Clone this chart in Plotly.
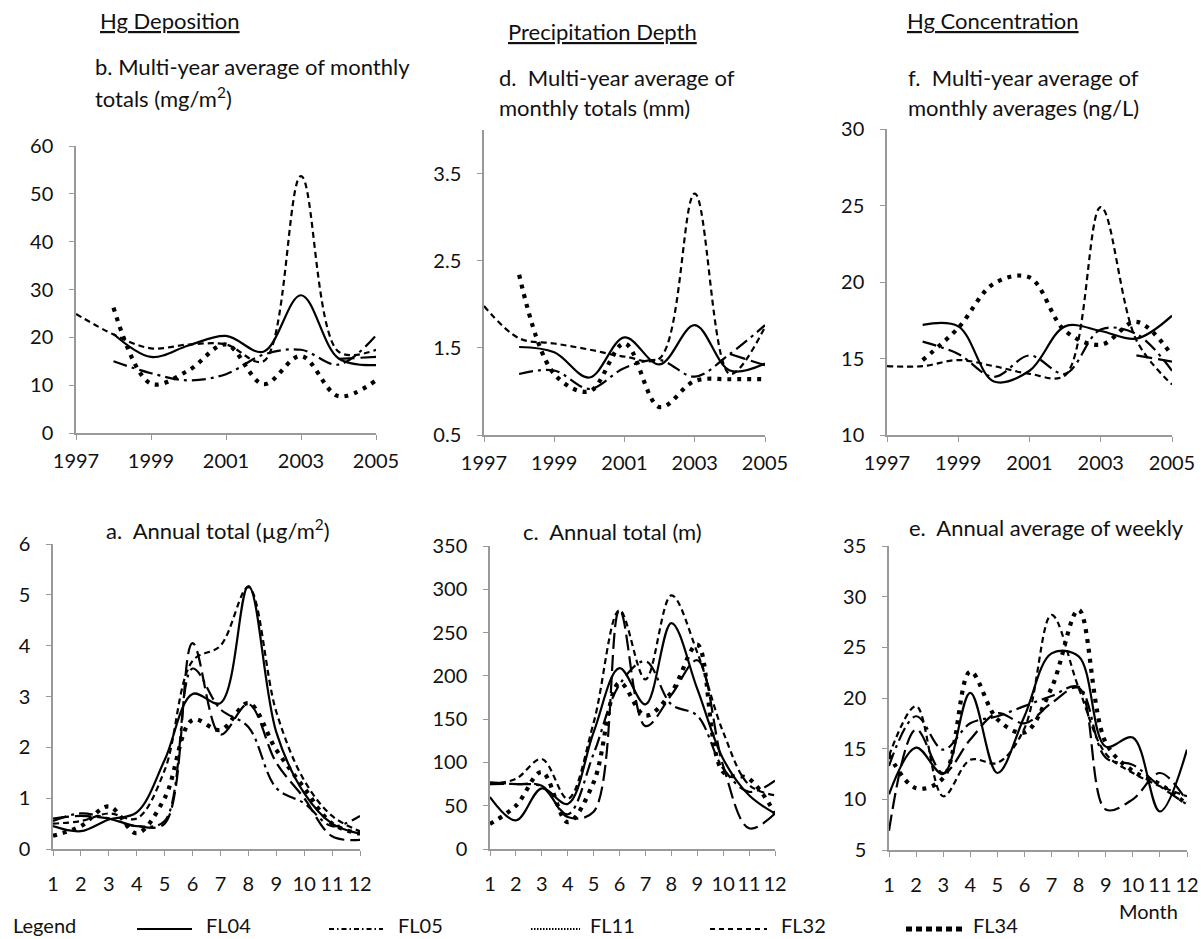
import plotly.graph_objects as go

# ---------------- data ----------------
years = [1997, 1998, 1999, 2000, 2001, 2002, 2003, 2004, 2005]
months = [1, 2, 3, 4, 5, 6, 7, 8, 9, 10, 11, 12]
stations = ["FL04", "FL05", "FL11", "FL32", "FL34"]

# b. Hg deposition, multi-year average of monthly totals (mg/m2)
dep_year_FL04 = [None, 20.7, 15.9, 18.3, 20.3, 17.0, 28.8, 15.6, 14.2]
dep_year_FL05 = [None, 15.0, 12.5, 11.0, 12.3, 16.4, 17.4, 14.3, 20.4]
dep_year_FL11 = [None, None, None, None, None, None, None, 15.5, 15.9]
dep_year_FL32 = [24.9, 20.6, 17.7, 18.5, 18.5, 15.0, 53.7, 17.0, 17.4]
dep_year_FL34 = [None, 26.2, 10.3, 13.1, 18.5, 10.2, 16.1, 7.7, 11.0]

# d. Precipitation depth, multi-year average of monthly totals
pr_year_FL04 = [None, 1.51, 1.45, 1.16, 1.62, 1.31, 1.76, 1.24, 1.32]
pr_year_FL05 = [None, 1.20, 1.24, 1.03, 1.27, 1.36, 1.17, 1.43, 1.76]
pr_year_FL11 = [None, None, None, None, None, None, None, 1.43, 1.30]
pr_year_FL32 = [1.98, 1.61, 1.55, 1.48, 1.40, 1.38, 3.27, 1.20, 1.74]
pr_year_FL34 = [None, 2.34, 1.20, 1.00, 1.55, 0.82, 1.12, 1.14, 1.14]

# f. Hg concentration, multi-year average of monthly averages (ng/L)
cn_year_FL04 = [None, 17.2, 17.1, 13.5, 14.2, 17.1, 16.8, 16.3, 17.8]
cn_year_FL05 = [None, 16.1, 15.3, 13.8, 15.2, 14.0, 16.9, 16.6, 14.2]
cn_year_FL11 = [None, None, None, None, None, None, None, 15.2, 14.8]
cn_year_FL32 = [14.5, 14.5, 14.9, 14.5, 14.0, 13.9, 24.9, 16.2, 13.3]
cn_year_FL34 = [None, 14.9, 17.0, 19.9, 20.3, 16.8, 15.9, 17.4, 15.2]

# a. Hg deposition, annual total (ug/m2) by month
dep_mon_FL04 = [0.45, 0.35, 0.58, 0.72, 1.75, 3.05, 2.87, 5.17, 2.30, 1.10, 0.50, 0.30]
dep_mon_FL05 = [0.55, 0.70, 0.60, 0.45, 0.55, 3.55, 2.75, 2.40, 1.20, 0.90, 0.45, 0.65]
dep_mon_FL11 = [0.60, 0.65, 0.60, 0.45, 0.50, 4.05, 2.25, 2.85, 1.70, 1.00, 0.25, 0.18]
dep_mon_FL32 = [0.50, 0.55, 0.70, 0.60, 1.55, 3.70, 4.00, 5.15, 2.70, 1.35, 0.65, 0.35]
dep_mon_FL34 = [0.26, 0.45, 0.84, 0.31, 1.00, 2.54, 2.34, 2.87, 1.95, 1.20, 0.50, 0.30]

# c. Precipitation depth, annual total by month
pr_mon_FL04 = [60, 33, 70, 52, 135, 209, 167, 261, 185, 104, 62, 41]
pr_mon_FL05 = [75, 75, 72, 40, 110, 190, 217, 167, 154, 93, 66, 79]
pr_mon_FL11 = [77, 75, 73, 37, 43, 276, 142, 178, 218, 96, 24, 41]
pr_mon_FL32 = [75, 81, 104, 58, 146, 276, 196, 293, 227, 135, 74, 62]
pr_mon_FL34 = [29, 50, 89, 31, 77, 192, 154, 181, 236, 89, 81, 41]

# e. Hg concentration, annual average of weekly by month
cn_mon_FL04 = [10.5, 15.1, 12.5, 20.5, 12.6, 18.2, 24.4, 24.1, 15.2, 16.1, 8.8, 14.9]
cn_mon_FL05 = [13.3, 18.2, 14.9, 17.5, 18.2, 19.2, 20.2, 21.1, 14.1, 13.4, 11.3, 9.5]
cn_mon_FL11 = [6.9, 16.9, 12.6, 15.9, 18.5, 17.5, 19.5, 21.0, 9.0, 10.0, 12.6, 9.8]
cn_mon_FL32 = [14.3, 19.2, 10.3, 13.9, 13.6, 17.0, 28.2, 21.0, 14.5, 12.6, 11.3, 10.3]
cn_mon_FL34 = [14.4, 11.1, 12.1, 22.6, 17.9, 16.6, 21.0, 28.7, 15.6, 12.8, 11.5, 9.5]

year_ticks = [1997, 1999, 2001, 2003, 2005]

# ---------------- styling ----------------
W, H = 1201, 939
FONT = "Lato"
FS = 20
FS_T = 22
TXT = "#111111"
AX = "#999999"


def px(x):
    return x / W


def py(y):
    return 1 - y / H


plot_style = {
    "FL04": dict(width=2.2, dash="solid"),
    "FL05": dict(width=2.2, dash="14px,5px,3px,5px"),
    "FL11": dict(width=2.2, dash="16px,6px"),
    "FL32": dict(width=2.2, dash="6px,4px"),
    "FL34": dict(width=4.2, dash="4px,6px"),
}

panels = [
    (years, [dep_year_FL04, dep_year_FL05, dep_year_FL11, dep_year_FL32, dep_year_FL34],
     (76, 376), (146, 433), [0, 60], 0, 10),
    (years, [pr_year_FL04, pr_year_FL05, pr_year_FL11, pr_year_FL32, pr_year_FL34],
     (484, 765), (130, 435), [0.5, 4.0], 0.5, 1),
    (years, [cn_year_FL04, cn_year_FL05, cn_year_FL11, cn_year_FL32, cn_year_FL34],
     (887, 1172), (129, 435), [10, 30], 10, 5),
    (months, [dep_mon_FL04, dep_mon_FL05, dep_mon_FL11, dep_mon_FL32, dep_mon_FL34],
     (53, 360), (544, 849), [0, 6], 0, 1),
    (months, [pr_mon_FL04, pr_mon_FL05, pr_mon_FL11, pr_mon_FL32, pr_mon_FL34],
     (490, 775), (546, 849), [0, 350], 0, 50),
    (months, [cn_mon_FL04, cn_mon_FL05, cn_mon_FL11, cn_mon_FL32, cn_mon_FL34],
     (889, 1187), (546, 850), [5, 35], 5, 5),
]

fig = go.Figure()
layout = dict(
    width=W, height=H, autosize=False,
    margin=dict(l=0, r=0, t=0, b=0, pad=0, autoexpand=False),
    paper_bgcolor="white", plot_bgcolor="white",
    showlegend=False,
    font=dict(family=FONT, size=FS, color=TXT),
)

for i, (xv, series, (xl, xr), (yt, yb), yr, t0, dt) in enumerate(panels, start=1):
    xa = "x" if i == 1 else f"x{i}"
    ya = "y" if i == 1 else f"y{i}"
    for name, vals in zip(stations, series):
        fig.add_trace(go.Scatter(
            x=xv, y=vals, mode="lines", name=name, xaxis=xa, yaxis=ya,
            line=dict(color="black", shape="spline", smoothing=1.0, **plot_style[name]),
            connectgaps=False, hoverinfo="skip",
        ))
    yearly = xv is years
    xkey = "xaxis" if i == 1 else f"xaxis{i}"
    ykey = "yaxis" if i == 1 else f"yaxis{i}"
    common = dict(
        showgrid=False, zeroline=False, showline=True, linecolor=AX, linewidth=1.5,
        ticks="outside", ticklen=5, tickcolor=AX, tickwidth=1,
        tickfont=dict(family=FONT, size=FS, color=TXT),
        automargin=False, fixedrange=True, tickangle=0, ticklabeloverflow="allow",
    )
    xaxis = dict(domain=[px(xl), px(xr)], anchor=ya, range=[xv[0], xv[-1]],
                 ticklabelstandoff=4 if yearly else 11, **common)
    if yearly:
        xaxis.update(tickmode="array", tickvals=year_ticks, ticktext=[str(v) for v in year_ticks])
    else:
        xaxis.update(tickmode="array", tickvals=months, ticktext=[str(m) for m in months])
    yaxis = dict(domain=[py(yb), py(yt)], anchor=xa, range=yr,
                 tick0=t0, dtick=dt, tickmode="linear", ticklabelstandoff=12, **common)
    layout[xkey] = xaxis
    layout[ykey] = yaxis

fig.update_layout(**layout)

# ---------------- texts ----------------
def ann(text, x, y, xanchor="center", yanchor="middle", size=FS_T):
    fig.add_annotation(text=text, x=px(x), y=py(y), xref="paper", yref="paper",
                       xanchor=xanchor, yanchor=yanchor, showarrow=False,
                       font=dict(family=FONT, size=size, color=TXT))

ann("<u>Hg Deposition</u>", 170, 20)
ann("<u>Precipitation Depth</u>", 602, 32)
ann("<u>Hg Concentration</u>", 993, 20)
ann("b. Multi-year average of monthly", 93, 67, xanchor="left")
ann("totals (mg/m<sup>2</sup>)", 93, 97, xanchor="left")
ann("d.  Multi-year average of", 497, 77, xanchor="left")
ann("monthly totals (mm)", 497, 108, xanchor="left")
ann("f.  Multi-year average of", 906, 77, xanchor="left")
ann("monthly averages (ng/L)", 906, 108, xanchor="left")
ann("a.  Annual total (µg/m<sup>2</sup>)", 218, 529)
ann("c.  Annual total (m)", 612, 531)
ann("e.  Annual average of weekly", 1046, 527)

# ---------------- legend (drawn as a key row) ----------------
ann("Legend", 11, 925, xanchor="left", size=FS)
legend_items = [
    ("FL04", 137, 192, 204, dict(width=1.8, dash="solid")),
    ("FL05", 329, 383, 396, dict(width=1.8, dash="5px,3px,1.5px,3px")),
    ("FL11", 531, 580, 588, dict(width=2, dash="1.5px,1.5px")),
    ("FL32", 710, 767, 779, dict(width=1.8, dash="5px,4px")),
    ("FL34", 906, 962, 971, dict(width=5, dash="6px,4px")),
]
for name, x0, x1, tx, st in legend_items:
    fig.add_shape(type="line", xref="paper", yref="paper",
                  x0=px(x0), x1=px(x1), y0=py(929), y1=py(929),
                  line=dict(color="black", **st))
    ann(name, tx, 925, xanchor="left", size=FS)
ann("Month", 1148, 911, size=FS)

fig.write_html(
    "out.html",
    config={"displayModeBar": False},
    post_script="document.body.style.margin='0';document.body.style.overflow='hidden';",
)
